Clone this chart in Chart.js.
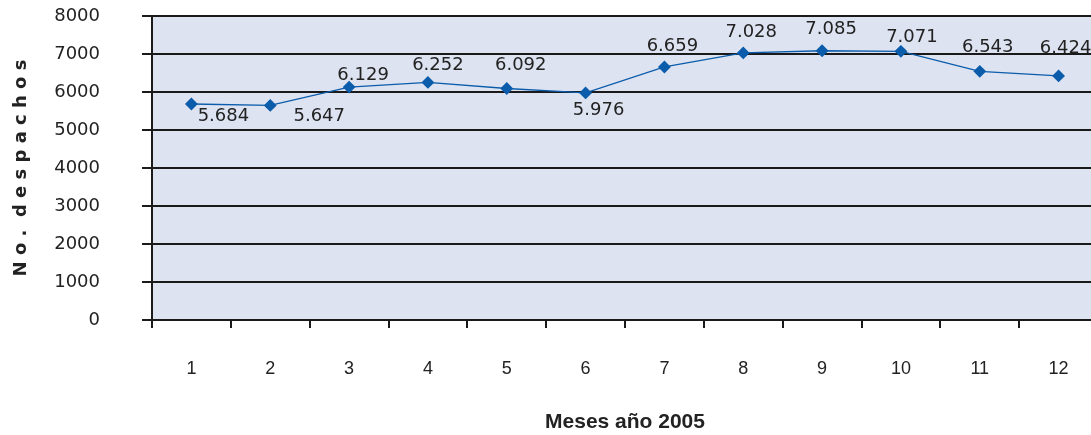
<!DOCTYPE html>
<html>
<head>
<meta charset="utf-8">
<script src="https://cdn.jsdelivr.net/npm/chart.js@4.4.1/dist/chart.umd.min.js"></script>
<style>
  html, body { margin: 0; padding: 0; background: #fff; overflow: hidden; }
  #wrap { width: 1100px; height: 435px; }
</style>
</head>
<body>
<div id="wrap"><canvas id="chart" width="1100" height="435"></canvas></div>
<script>
// data
const months = ['1', '2', '3', '4', '5', '6', '7', '8', '9', '10', '11', '12'];
const despachos = [5684, 5647, 6129, 6252, 6092, 5976, 6659, 7028, 7085, 7071, 6543, 6424];
const yTicks = [0, 1000, 2000, 3000, 4000, 5000, 6000, 7000, 8000];

// where each value label sits relative to its marker (dx, dy)
const labelOffsets = [
  [32, 12], [49, 11], [14, -12], [10, -17], [14, -23], [13, 17],
  [8, -21], [8, -21], [9, -21], [11, -14], [8, -24], [7, -28]
];

const ink = '#1a1a1a';
const blue = '#0b5cab';

const fmt = (v) => Math.floor(v / 1000) + '.' + String(v % 1000).padStart(3, '0');

// lavender plot background
const plotBg = {
  id: 'plotBg',
  beforeDraw(chart) {
    const { ctx, chartArea: a } = chart;
    ctx.save();
    ctx.fillStyle = '#dde3f1';
    ctx.fillRect(a.left, a.top, a.right - a.left, a.bottom - a.top);
    ctx.restore();
  }
};

// value labels next to each marker
const valueLabels = {
  id: 'valueLabels',
  afterDatasetsDraw(chart) {
    const ctx = chart.ctx;
    const meta = chart.getDatasetMeta(0);
    ctx.save();
    ctx.font = '18px "DejaVu Sans", Verdana, sans-serif';
    ctx.fillStyle = '#222';
    ctx.textAlign = 'center';
    ctx.textBaseline = 'middle';
    meta.data.forEach((pt, i) => {
      const off = labelOffsets[i];
      ctx.fillText(fmt(despachos[i]), pt.x + off[0], pt.y + off[1]);
    });
    ctx.restore();
  }
};

new Chart(document.getElementById('chart'), {
  type: 'line',
  data: {
    labels: months,
    datasets: [{
      data: despachos,
      borderColor: blue,
      backgroundColor: blue,
      borderWidth: 1.3,
      pointStyle: 'rectRot',
      pointRadius: 5.5,
      pointBackgroundColor: blue,
      pointBorderColor: blue,
      tension: 0
    }]
  },
  options: {
    responsive: false,
    animation: false,
    layout: { autoPadding: false, padding: { top: 16, right: 2, bottom: 0, left: 0 } },
    plugins: { legend: { display: false }, tooltip: { enabled: false } },
    scales: {
      x: {
        offset: true,
        afterFit(scale) {
          scale.height = 115;
          scale.paddingLeft = 0;
          scale.paddingRight = 0;
        },
        grid: {
          offset: true,
          drawOnChartArea: false,
          drawTicks: true,
          tickLength: 8,
          color: ink,
          lineWidth: 2
        },
        border: { color: ink, width: 2 },
        ticks: {
          color: '#222',
          padding: 30,
          font: { family: '"Liberation Sans", Arial, sans-serif', size: 18 }
        },
        title: {
          display: true,
          text: 'Meses año 2005',
          color: '#222',
          padding: { top: 33, bottom: 0 },
          font: { family: '"Liberation Sans", Arial, sans-serif', size: 21, weight: 'bold' }
        }
      },
      y: {
        min: 0,
        max: 8000,
        afterBuildTicks(scale) { scale.ticks = yTicks.map(v => ({ value: v })); },
        afterFit(scale) {
          scale.width = 152;
          scale.paddingTop = 0;
          scale.paddingBottom = 0;
        },
        grid: {
          drawTicks: true,
          tickLength: 10,
          color: ink,
          lineWidth: 2
        },
        border: { color: ink, width: 2 },
        ticks: {
          color: '#222',
          padding: 42,
          callback: (v) => String(v),
          font: { family: '"DejaVu Sans", Verdana, sans-serif', size: 18 }
        },
        title: {
          display: true,
          text: 'N o .  d e s p a c h o s',
          color: '#222',
          padding: { top: 11, bottom: 21 },
          font: { family: '"DejaVu Sans", Verdana, sans-serif', size: 18, weight: 'bold' }
        }
      }
    }
  },
  plugins: [plotBg, valueLabels]
});
</script>
</body>
</html>
